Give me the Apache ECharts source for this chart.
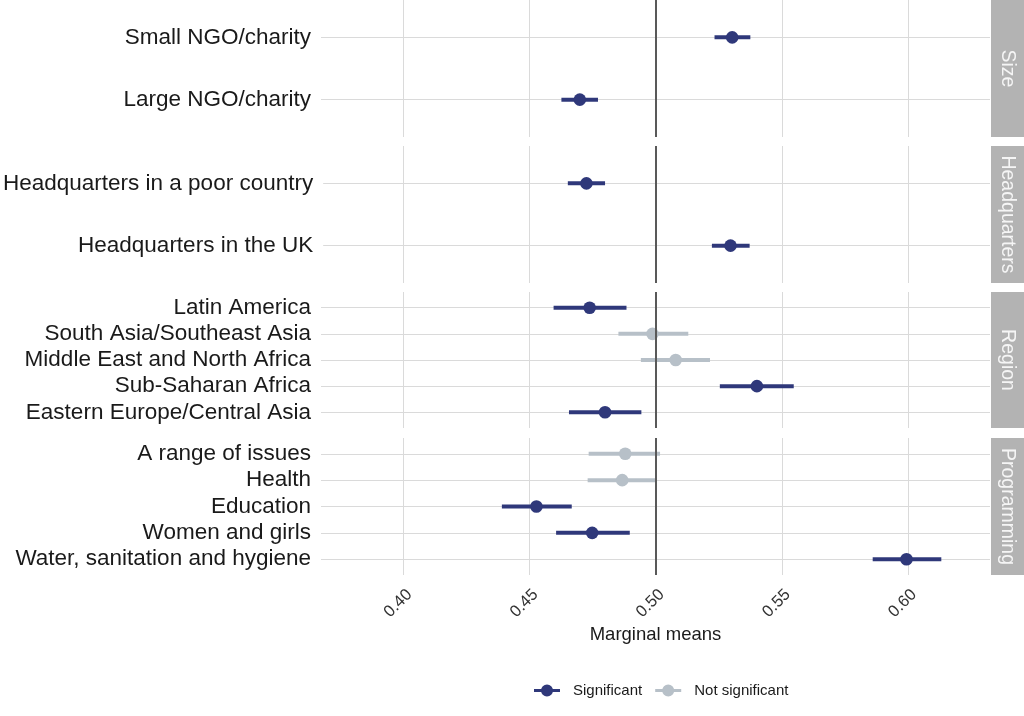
<!DOCTYPE html>
<html>
<head>
<meta charset="utf-8">
<script src="https://cdn.jsdelivr.net/npm/echarts@6/dist/echarts.min.js"></script>
<style>
html, body { margin: 0; padding: 0; background: #fff; }
#chart { width: 1024px; height: 716px; }
</style>
</head>
<body>
<div id="chart"></div>
<script>
// facet strips, top to bottom
const facetNames = ['Size', 'Headquarters', 'Region', 'Programming'];

const sizeLabels = ['Small NGO/charity', 'Large NGO/charity'];
const sizeMean = [0.5303, 0.4699];
const sizeLow = [0.5233, 0.4626];
const sizeHigh = [0.5375, 0.4771];
const sizeSig = [1, 1];

const hqLabels = ['Headquarters in a poor country', 'Headquarters in the UK'];
const hqMean = [0.4720, 0.5293];
const hqLow = [0.4646, 0.5219];
const hqHigh = [0.4794, 0.5369];
const hqSig = [1, 1];

const regionLabels = ['Latin America', 'South Asia/Southeast Asia', 'Middle East and North Africa',
  'Sub-Saharan Africa', 'Eastern Europe/Central Asia'];
const regionMean = [0.4738, 0.4987, 0.5079, 0.5401, 0.4799];
const regionLow = [0.4595, 0.4852, 0.4941, 0.5254, 0.4656];
const regionHigh = [0.4884, 0.5129, 0.5215, 0.5547, 0.4943];
const regionSig = [1, 0, 0, 1, 1];

const progLabels = ['A range of issues', 'Health', 'Education', 'Women and girls',
  'Water, sanitation and hygiene'];
const progMean = [0.4879, 0.4867, 0.4527, 0.4748, 0.5994];
const progLow = [0.4734, 0.4730, 0.4390, 0.4605, 0.5860];
const progHigh = [0.5017, 0.5000, 0.4667, 0.4897, 0.6132];
const progSig = [0, 0, 1, 1, 1];

const xTicks = [0.40, 0.45, 0.50, 0.55, 0.60];
const refValue = 0.5;

const facets = [
  { labels: sizeLabels, mean: sizeMean, low: sizeLow, high: sizeHigh, sig: sizeSig },
  { labels: hqLabels, mean: hqMean, low: hqLow, high: hqHigh, sig: hqSig },
  { labels: regionLabels, mean: regionMean, low: regionLow, high: regionHigh, sig: regionSig },
  { labels: progLabels, mean: progMean, low: progLow, high: progHigh, sig: progSig }
];

const SIG_COLOR = '#2f387a';
const NS_COLOR = '#b7c0c8';
const GRID_COLOR = '#dadada';
const FONT = '"Liberation Sans", Arial, sans-serif';
const X_MIN = 0.3673, X_MAX = 0.6325;
const PANEL_LEFT = 321, PANEL_RIGHT = 990;
const panels = [{ top: 0, h: 137 }, { top: 146, h: 137 }, { top: 292, h: 136 }, { top: 438, h: 137 }];

const chart = echarts.init(document.getElementById('chart'));

const grids = [], xAxes = [], yAxes = [], series = [], graphics = [];

function renderCI(color) {
  return function (params, api) {
    const y = api.value(1);
    const p = api.coord([api.value(0), y]);
    const lo = api.coord([api.value(2), y]);
    const hi = api.coord([api.value(3), y]);
    return {
      type: 'group',
      children: [
        { type: 'line', shape: { x1: lo[0], y1: lo[1], x2: hi[0], y2: hi[1] },
          style: { stroke: color, lineWidth: 4 } },
        { type: 'circle', shape: { cx: p[0], cy: p[1], r: 6.3 }, style: { fill: color } }
      ]
    };
  };
}

facets.forEach(function (f, i) {
  const pn = panels[i];
  const n = f.labels.length;
  const s = pn.h / (n + 0.2);
  const last = i === facets.length - 1;

  // background grid: full panel, vertical grid lines + reference line
  grids.push({ left: PANEL_LEFT, width: PANEL_RIGHT - PANEL_LEFT, top: pn.top, height: pn.h });
  const bgIdx = grids.length - 1;
  xAxes.push({
    type: 'value', gridIndex: bgIdx, min: X_MIN, max: X_MAX,
    axisLine: { show: false }, splitLine: { show: false },
    axisTick: { show: false },
    axisLabel: {
      show: last, customValues: xTicks, rotate: 45, margin: 11, verticalAlign: 'top',
      fontSize: 16.5, color: '#333', fontFamily: FONT,
      formatter: function (v) { return v.toFixed(2); }
    },
    name: last ? 'Marginal means' : '', nameLocation: 'middle', nameGap: 50,
    nameTextStyle: { fontSize: 18.5, color: '#1a1a1a', fontFamily: FONT }
  });
  yAxes.push({ type: 'value', gridIndex: bgIdx, min: 0, max: 1, show: false });
  series.push({
    type: 'scatter', name: 'grid' + i, xAxisIndex: bgIdx, yAxisIndex: bgIdx,
    data: [[refValue, 0.5]], symbolSize: 0, silent: true, z: 1,
    markLine: {
      silent: true, symbol: 'none', label: { show: false }, z: 1,
      lineStyle: { color: GRID_COLOR, width: 1, type: 'solid' },
      data: xTicks.map(function (v) { return { xAxis: v }; })
    }
  });
  series.push({
    type: 'scatter', name: 'ref' + i, xAxisIndex: bgIdx, yAxisIndex: bgIdx,
    data: [[refValue, 0.5]], symbolSize: 0, silent: true, z: 10,
    markLine: {
      silent: true, symbol: 'none', label: { show: false }, z: 10,
      lineStyle: { color: '#595959', width: 2, type: 'solid' },
      data: [{ xAxis: refValue }]
    }
  });

  // data grid: category rows spaced like the panel's discrete scale
  grids.push({ left: PANEL_LEFT, width: PANEL_RIGHT - PANEL_LEFT, top: pn.top + 0.1 * s, height: n * s });
  const gi = grids.length - 1;
  xAxes.push({ type: 'value', gridIndex: gi, min: X_MIN, max: X_MAX, show: false });
  yAxes.push({
    type: 'category', gridIndex: gi, data: f.labels, inverse: true,
    axisLine: { show: false }, axisTick: { show: false }, splitLine: { show: false },
    axisLabel: { interval: 0, fontSize: 22.5, color: '#1a1a1a', fontFamily: FONT, margin: 10 }
  });
  // horizontal grid lines through each row
  series.push({
    type: 'scatter', name: 'rows' + i, xAxisIndex: gi, yAxisIndex: gi,
    data: [], symbolSize: 0, silent: true, z: 1,
    markLine: {
      silent: true, symbol: 'none', label: { show: false }, z: 1,
      lineStyle: { color: GRID_COLOR, width: 1, type: 'solid' },
      data: f.labels.map(function (lab) { return { yAxis: lab }; })
    }
  });

  const sigData = [], nsData = [];
  f.labels.forEach(function (lab, k) {
    const row = [f.mean[k], k, f.low[k], f.high[k]];
    (f.sig[k] ? sigData : nsData).push(row);
  });
  [['Significant', SIG_COLOR, sigData], ['Not significant', NS_COLOR, nsData]].forEach(function (d) {
    series.push({
      type: 'custom', name: d[0], xAxisIndex: gi, yAxisIndex: gi, z: 3,
      itemStyle: { color: d[1] },
      renderItem: renderCI(d[1]),
      encode: { x: [0, 2, 3], y: 1 },
      data: d[2]
    });
  });

  // facet strip on the right
  graphics.push({
    type: 'rect', left: 991, top: pn.top, shape: { width: 40, height: pn.h },
    style: { fill: '#b3b3b3' }, silent: true
  });
  graphics.push({
    type: 'text', x: 1007, y: pn.top + pn.h / 2, rotation: -Math.PI / 2,
    style: { text: facetNames[i], fill: '#f5f5f5', fontSize: 19.5, fontFamily: FONT,
      align: 'center', verticalAlign: 'middle' }, silent: true
  });
});

const legendIcon = 'path://M0,4.6 L8,4.6 L8,7.4 L0,7.4 Z M18,4.6 L26,4.6 L26,7.4 L18,7.4 Z ' +
  'M7,6 A6,6 0 1,1 19,6 A6,6 0 1,1 7,6 Z';

chart.setOption({
  animation: false,
  backgroundColor: '#fff',
  grid: grids,
  xAxis: xAxes,
  yAxis: yAxes,
  series: series,
  graphic: graphics,
  legend: {
    data: [
      { name: 'Significant', icon: legendIcon },
      { name: 'Not significant', icon: legendIcon }
    ],
    left: 529, top: 678, itemWidth: 26, itemHeight: 12, itemGap: 13,
    itemStyle: { borderWidth: 0 },
    textStyle: { fontSize: 15, color: '#1a1a1a', fontFamily: FONT, padding: [0, 0, 0, 8] }
  }
});
</script>
</body>
</html>
